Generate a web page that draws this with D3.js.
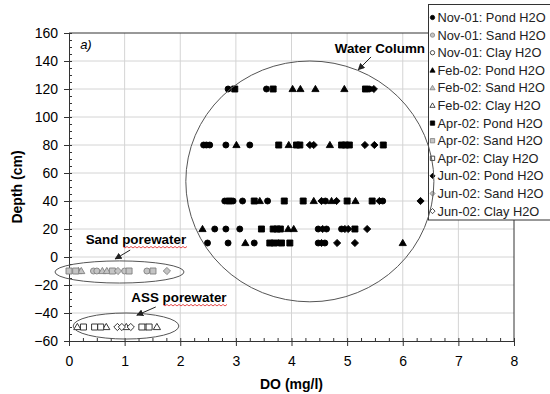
<!DOCTYPE html>
<html><head><meta charset="utf-8">
<script src="https://cdn.jsdelivr.net/npm/d3@7"></script>
<style>
body{margin:0;background:#fff}
svg{display:block;font-family:"Liberation Sans",Arial,sans-serif}
</style>
</head><body>
<svg id="chart" width="550" height="394"></svg>
<script>
// ---------- data ----------
const seriesNames = [
  "Nov-01: Pond H2O","Nov-01: Sand H2O","Nov-01: Clay H2O",
  "Feb-02: Pond H2O","Feb-02: Sand H2O","Feb-02: Clay H2O",
  "Apr-02: Pond H2O","Apr-02: Sand H2O","Apr-02: Clay H2O",
  "Jun-02: Pond H2O","Jun-02: Sand H2O","Jun-02: Clay H2O"
];
// [DO (mg/l), depth (cm)]
const nov01Pond = [[2.86,120],[3.55,120],[5.40,120],
  [2.42,80],[2.47,80],[2.53,80],[2.82,80],[3.25,80],
  [2.80,40],[2.95,40],[3.12,40],[3.57,40],[4.61,40],[5.64,40],
  [2.62,20],[2.82,20],[3.07,20],[4.48,20],[4.63,20],[4.90,20],
  [2.49,10],[2.86,10],[3.33,10],[4.48,10],[4.60,10]];
const nov01Sand = [[0.44,-10],[0.50,-10],[1.00,-10],[1.40,-10]];
const nov01Clay = [[1.38,-50]];
const feb02Pond = [[4.02,120],[4.16,120],[4.43,120],[4.95,120],
  [3.01,80],[3.95,80],[4.69,80],
  [3.43,40],[4.40,40],[4.72,40],[5.15,40],
  [2.40,20],[3.94,20],[4.04,20],
  [3.17,10],[3.76,10],[6.00,10]];
const feb02Sand = [[0.17,-10],[0.22,-10],[0.60,-10],[0.68,-10]];
const feb02Clay = [[0.15,-50],[0.67,-50],[1.03,-50],[1.58,-50]];
const apr02Pond = [[2.98,120],[3.67,120],[5.33,120],
  [3.77,80],[4.09,80],[4.15,80],[4.90,80],[4.97,80],[5.04,80],[5.65,80],
  [2.88,40],[3.33,40],[3.87,40],[4.21,40],[5.00,40],[5.45,40],
  [3.46,20],[3.67,20],[3.74,20],[3.80,20],[5.14,20],
  [3.61,10],[3.69,10],[3.82,10],[3.97,10]];
const apr02Sand = [[0.00,-10],[0.12,-10],[0.78,-10],[1.08,-10],[1.51,-10]];
const apr02Clay = [[0.26,-50],[0.46,-50],[0.57,-50],[1.31,-50],[1.44,-50]];
const jun02Pond = [[5.48,120],
  [4.33,80],[4.40,80],[5.32,80],[5.49,80],
  [4.54,40],[4.81,40],[5.58,40],[6.32,40],
  [4.56,20],[4.96,20],[5.02,20],[5.36,20],
  [4.54,10],[4.82,10],[5.14,10]];
const jun02Sand = [[0.88,-10],[1.76,-10]];
const jun02Clay = [[0.87,-50],[0.95,-50],[1.11,-50]];

const seriesValues = [nov01Pond,nov01Sand,nov01Clay,feb02Pond,feb02Sand,feb02Clay,
  apr02Pond,apr02Sand,apr02Clay,jun02Pond,jun02Sand,jun02Clay];

const xTicks = [0,1,2,3,4,5,6,7,8];
const yTicks = [-60,-40,-20,0,20,40,60,80,100,120,140,160];
const xTitle = "DO (mg/l)";
const yTitle = "Depth (cm)";

// ---------- layout ----------
const svg = d3.select("#chart");
const x = d3.scaleLinear().domain([0,8]).range([69,514]);
const y = d3.scaleLinear().domain([-60,160]).range([341,33]);

const shapes = {
  circle: s => { const r=3*s; return `M${r},0A${r},${r} 0 1,1 ${-r},0A${r},${r} 0 1,1 ${r},0Z`; },
  triangle: s => `M0,${-3.6*s}L${3.6*s},${2.6*s}L${-3.6*s},${2.6*s}Z`,
  square: s => `M${-3*s},${-3*s}H${3*s}V${3*s}H${-3*s}Z`,
  diamond: s => `M0,${-3.6*s}L${3.6*s},0L0,${3.6*s}L${-3.6*s},0Z`
};
const shapeOf = i => ["circle","triangle","square","diamond"][Math.floor(i/3)];
const styleOf = i => [
  {fill:"#000",stroke:"#000"},
  {fill:"#c4c4c4",stroke:"#808080"},
  {fill:"#fff",stroke:"#222"}
][i%3];

// gridlines
const g = svg.append("g");
g.selectAll(".vg").data(xTicks.slice(1,-1)).join("line")
  .attr("x1",d=>x(d)).attr("x2",d=>x(d)).attr("y1",y(160)).attr("y2",y(-60))
  .attr("stroke","#d4d4d4").attr("stroke-width",1);
g.selectAll(".hg").data(yTicks.slice(1,-1)).join("line")
  .attr("x1",x(0)).attr("x2",x(8)).attr("y1",d=>y(d)).attr("y2",d=>y(d))
  .attr("stroke","#d4d4d4").attr("stroke-width",1);

svg.append("path")
  .attr("d",`M${x(0)},${y(160)}H${x(8)}V${y(-60)}`)
  .attr("fill","none").attr("stroke","#333").attr("stroke-width",1);

const xMinor = d3.range(0,8.001,0.25);
const yMinor = d3.range(-60,160.001,5);
svg.append("g").attr("transform",`translate(0,${y(-60)})`)
  .call(d3.axisBottom(x).tickValues(xMinor).tickSize(-3).tickFormat(""))
  .call(a=>a.select(".domain").remove())
  .call(a=>a.selectAll("line").attr("stroke","#333"));
svg.append("g").attr("transform",`translate(${x(0)},0)`)
  .call(d3.axisLeft(y).tickValues(yMinor).tickSize(-3).tickFormat(""))
  .call(a=>a.select(".domain").remove())
  .call(a=>a.selectAll("line").attr("stroke","#333"));

const xAxis = svg.append("g").attr("transform",`translate(0,${y(-60)})`)
  .call(d3.axisBottom(x).tickValues(xTicks).tickSize(5).tickSizeOuter(0).tickPadding(10).tickFormat(d3.format("d")));
const yAxis = svg.append("g").attr("transform",`translate(${x(0)},0)`)
  .call(d3.axisLeft(y).tickValues(yTicks).tickSize(5).tickSizeOuter(0).tickPadding(6).tickFormat(d3.format("d")));
[xAxis,yAxis].forEach(a=>{
  a.select(".domain").attr("stroke","#333");
  a.selectAll("line").attr("stroke","#333");
  a.selectAll("text").attr("font-size",14).attr("fill","#000")
    .attr("font-family","'Liberation Sans',Arial,sans-serif");
});

svg.append("text").attr("x",(x(0)+x(8))/2).attr("y",389).attr("text-anchor","middle")
  .attr("font-size",14).attr("font-weight","bold").text(xTitle);
svg.append("text").attr("transform",`translate(22,${(y(160)+y(-60))/2}) rotate(-90)`)
  .attr("text-anchor","middle").attr("font-size",14).attr("font-weight","bold").text(yTitle);

svg.append("text").attr("x",x(0.2)).attr("y",y(148.6)).attr("font-size",13)
  .attr("font-style","italic").text("a)");

seriesValues.forEach((vals,i)=>{
  const st = styleOf(i), p = shapes[shapeOf(i)](1);
  svg.append("g").selectAll("path").data(vals).join("path")
    .attr("transform",d=>`translate(${x(d[0])},${y(d[1])})`)
    .attr("d",p).attr("fill",st.fill).attr("stroke",st.stroke).attr("stroke-width",0.9);
});

// legend
const lg = svg.append("g");
lg.append("rect").attr("x",428.5).attr("y",4.5).attr("width",130).attr("height",215.5)
  .attr("fill","#fff").attr("stroke","#333");
seriesNames.forEach((n,i)=>{
  const yy = 17.5 + i*17.6;
  const st = styleOf(i);
  lg.append("path").attr("transform",`translate(432.5,${yy})`)
    .attr("d",shapes[shapeOf(i)](0.72)).attr("fill",st.fill).attr("stroke",st.stroke).attr("stroke-width",0.8);
  lg.append("text").attr("x",437.5).attr("y",yy+4.5).attr("font-size",12.8).attr("fill","#222").text(n);
});

// annotations
const ann = svg.append("g");
svg.append("defs").append("marker").attr("id","ah").attr("viewBox","0 0 10 10")
  .attr("refX",9).attr("refY",5).attr("markerWidth",7).attr("markerHeight",7)
  .attr("markerUnits","userSpaceOnUse").attr("orient","auto")
  .append("path").attr("d","M0,0L10,5L0,10Z").attr("fill","#222");

const ellipses = [
  {cx:4.33, cy:54, rx:2.23, ry:86},
  {cx:0.908, cy:-10.7, rx:1.16, ry:7.9},
  {cx:1.025, cy:-49.3, rx:0.95, ry:9.3}
];
ellipses.forEach(e=>{
  ann.append("ellipse").attr("cx",x(e.cx)).attr("cy",y(e.cy))
    .attr("rx",x(e.cx+e.rx)-x(e.cx)).attr("ry",y(e.cy)-y(e.cy+e.ry))
    .attr("fill","none").attr("stroke","#555").attr("stroke-width",1);
});

const labels = [
  {t:"Water Column", x:6.40, y:145.7, anchor:"end", a:[[5.43,142.9],[5.20,133.7]], wavy:null},
  {t:"Sand porewater", x:0.30, y:9.3, anchor:"start", a:[[1.10,5.0],[0.83,-1.4]], wavy:[123,187]},
  {t:"ASS porewater", x:1.12, y:-32.1, anchor:"start", a:[[1.56,-35.7],[1.22,-41.6]], wavy:[163,227]}
];
labels.forEach(l=>{
  ann.append("text").attr("x",x(l.x)).attr("y",y(l.y)).attr("text-anchor",l.anchor)
    .attr("font-size",13.4).attr("font-weight","bold").attr("fill","#000").text(l.t);
  ann.append("line").attr("x1",x(l.a[0][0])).attr("y1",y(l.a[0][1]))
    .attr("x2",x(l.a[1][0])).attr("y2",y(l.a[1][1]))
    .attr("stroke","#222").attr("stroke-width",1).attr("marker-end","url(#ah)");
  if(l.wavy){
    const by = y(l.y)+2.5;
    let d = `M${l.wavy[0]},${by}`;
    for(let xx=l.wavy[0]+2, k=1; xx<=l.wavy[1]; xx+=2, k++) d += `L${xx},${by+(k%2?1.5:0)}`;
    ann.append("path").attr("d",d).attr("fill","none").attr("stroke","#e02020").attr("stroke-width",0.8);
  }
});
</script>
</body></html>
